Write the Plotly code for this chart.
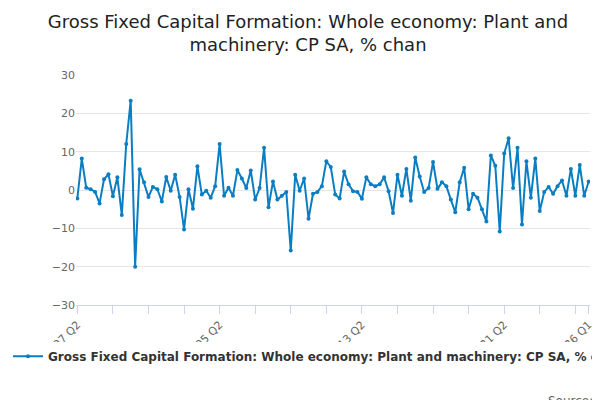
import plotly.graph_objects as go

values = [-2.2,8.2,0.6,0.2,-0.5,-3.5,2.8,4.1,-1.6,3.3,
-6.5,12,23.3,-20,5.4,2,-1.8,0.8,0.2,-3,
3.4,-0.2,4,-1.8,-10.3,0.2,-4.9,6.2,-1.2,-0.2,
-2,1,12,-1.5,0.6,-1.5,5.2,3,0.5,5.1,
-2.5,0.5,11,-4.5,2.2,-2.5,-1.5,-0.5,-15.8,4,
-0.2,3,-7.5,-1,-0.5,1,7.5,6,-1.2,-2.2,
4.8,1.5,-0.3,-0.5,-2.3,3.3,1.5,1,1.5,3.3,
-0.3,-6,4,-1.5,5.5,-2.8,8.5,3.5,-0.5,0.5,
7.3,0.3,2,1,-2.5,-5.8,2,5.8,-5,-1,
-2,-5,-8.2,9,6.3,-10.8,9.5,13.5,0.5,11,
-9,7.5,-2,8.2,-5.5,-0.5,0.8,-1,1,2.5,
-1.5,5.5,-1.5,6.5,-1.5,2.2]

quarters = []
y, q = 1997, 2
for _ in values:
    quarters.append(f"{y} Q{q}")
    q += 1
    if q > 4:
        q = 1; y += 1

label_quarters = ["1997 Q2", "2005 Q2", "2013 Q2", "2021 Q2", "2026 Q1"]
tickvals = quarters[::8] + [quarters[-1]]
ticktext = [t if t in label_quarters else "" for t in tickvals]

name = "<b>Gross Fixed Capital Formation: Whole economy: Plant and machinery: CP SA, % change</b>"
fig = go.Figure(go.Scatter(x=quarters, y=values, mode="lines+markers", name=name,
    line=dict(color="#0a7ec2", width=2), marker=dict(size=4, color="#0a7ec2")))

fig.update_layout(
    width=600, height=400, plot_bgcolor="white", paper_bgcolor="white",
    font=dict(family="DejaVu Sans, Open Sans", color="#333"),
    title=dict(text="Gross Fixed Capital Formation: Whole economy: Plant and<br>machinery: CP SA, % chan",
               x=0.5, xanchor="center", y=0.95, font=dict(size=18, color="#222")),
    margin=dict(l=44, r=18, t=67, b=103),
    showlegend=True,
    legend=dict(orientation="h", x=-0.11, y=-0.16, xanchor="left", yanchor="top",
                font=dict(size=12, color="#333")),
    xaxis=dict(type="category", tickmode="array", tickvals=tickvals, ticktext=ticktext,
               tickangle=-45, ticks="outside", tickcolor="#ccd6eb", ticklen=8,
               showline=True, linecolor="#ccd6eb", showgrid=False, automargin=False,
               tickfont=dict(size=11, color="#666"), range=[-0.3, len(values)-0.7]),
    yaxis=dict(range=[-30, 30], dtick=10, gridcolor="#e6e6e6", zeroline=False, automargin=False,
               tickfont=dict(size=11, color="#666")),
    annotations=[dict(text="Source:", xref="paper", yref="paper", x=1.01, y=-0.38,
                      xanchor="right", yanchor="top", showarrow=False,
                      font=dict(size=12, color="#666"))],
)
fig.write_html("out.html")
